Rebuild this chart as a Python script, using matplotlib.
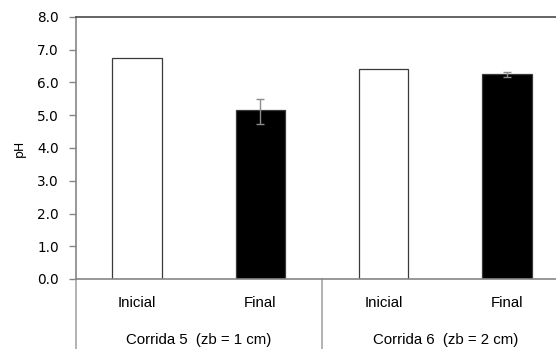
import numpy as np
import matplotlib
matplotlib.use("Agg")
import matplotlib.pyplot as plt

# valores de pH por corrida
etapas = ["Inicial", "Final", "Inicial", "Final"]
corridas = ["Corrida 5  (zb = 1 cm)", "Corrida 6  (zb = 2 cm)"]
ph = [6.74, 5.16, 6.40, 6.26]
err_inf = [0.0, 0.43, 0.0, 0.08]
err_sup = [0.0, 0.34, 0.0, 0.06]
cores = ["white", "black", "white", "black"]
yticks = np.arange(0, 8.01, 1.0)

fig = plt.figure(figsize=(5.56, 3.49), dpi=100)
ax = fig.add_axes([75.5/556, 70/349, 493/556, 262/349])

x = np.arange(len(ph))
ax.bar(x, ph, width=0.4, color=cores, edgecolor="#3a3a3a", linewidth=0.9, zorder=2)
tem_erro = [i for i in x if err_inf[i] > 0 or err_sup[i] > 0]
ax.errorbar(x[tem_erro], np.array(ph)[tem_erro],
            yerr=[np.array(err_inf)[tem_erro], np.array(err_sup)[tem_erro]],
            fmt="none", ecolor="#8c8c8c", elinewidth=1.0, capsize=3, capthick=1.0, zorder=3)

ax.set_xlim(-0.5, 3.5)
ax.set_ylim(0, 8)
ax.set_yticks(yticks)
ax.set_yticklabels([f"{v:.1f}" for v in yticks], fontsize=9.8, family="DejaVu Sans", color="black")
ax.tick_params(axis="y", direction="out", length=5, width=1, color="#868686", pad=7)
ax.set_xticks([])
ax.set_ylabel("pH", fontsize=9, family="DejaVu Sans", labelpad=8)

for lado in ["left", "bottom"]:
    ax.spines[lado].set_color("#868686")
    ax.spines[lado].set_linewidth(1.2)
ax.spines["top"].set_color("#4a4a4a")
ax.spines["top"].set_linewidth(1.2)
ax.spines["right"].set_visible(False)

# eixo de categorias em dois níveis
tr = ax.get_xaxis_transform()
for xs in [-0.5, 1.5, 3.5]:
    ax.plot([xs, xs], [0, -0.3], transform=tr, color="#a6a6a6", lw=1.2, clip_on=False)
for i, et in enumerate(etapas):
    ax.text(i, -0.092, et, transform=tr, ha="center", va="center",
            fontsize=10.8, family="Liberation Sans")
for j, cr in enumerate(corridas):
    ax.text(2*j + 0.5, -0.233, cr, transform=tr, ha="center", va="center",
            fontsize=10.8, family="Liberation Sans")

fig.savefig("out.png", dpi=100)
